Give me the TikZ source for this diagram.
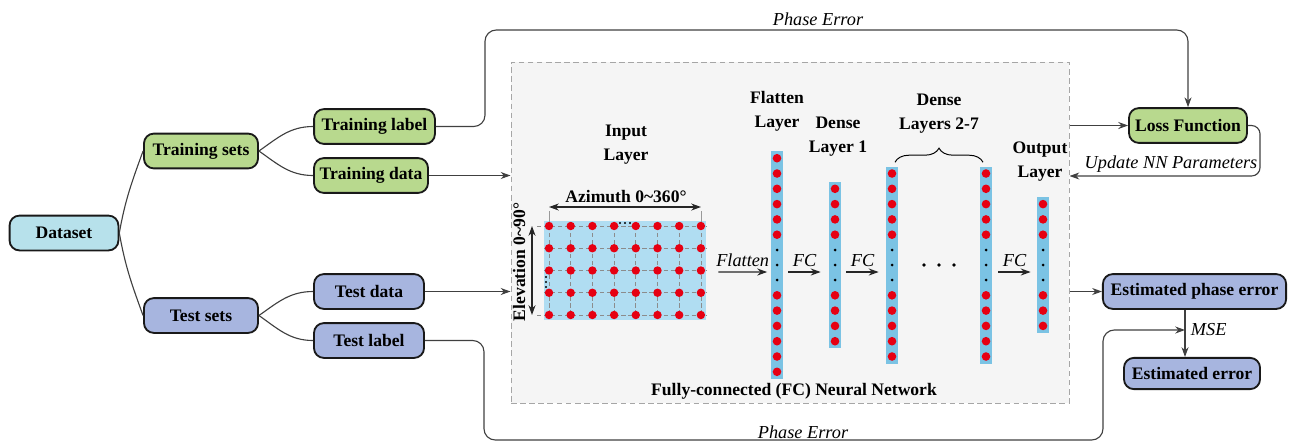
\documentclass[tikz,border=0pt]{standalone}
\usepackage{fontspec}
\setmainfont{Liberation Serif}
\usepackage{xcolor}
\usepackage{tikz}
\usetikzlibrary{arrows.meta,shapes,calc,decorations.pathreplacing}

\definecolor{trgreen}{HTML}{B8D98E}
\definecolor{tsblue}{HTML}{A7B5DF}
\definecolor{dsblue}{HTML}{B7E1EB}
\definecolor{framegray}{HTML}{F5F5F5}
\definecolor{gridblue}{HTML}{B0DDF2}
\definecolor{barblue}{HTML}{7BC3E4}
\definecolor{dotred}{HTML}{E60012}

\begin{document}
\begin{tikzpicture}[x=0.025cm,y=0.025cm]
            \tikzset{box/.style = {draw=black!90, line width=1.3pt, rounded corners=7pt, minimum height=0.87cm, inner sep=2pt, font=\fontsize{12.5}{15}\selectfont\bfseries}}
            \tikzset{link/.style = {draw=black!75, line width=0.8pt}}
            \tikzset{flow/.style = {link, -{Stealth[length=7pt,width=5pt]}}}
            \tikzset{netflow/.style = {draw=black!85, line width=0.9pt, -{Stealth[length=7pt,width=5pt]}}}
            \tikzset{dim/.style = {draw=black!85, line width=0.9pt, {Stealth[length=7pt,width=5pt]}-{Stealth[length=7pt,width=5pt]}}}
            \tikzset{gridline/.style = {draw=gray!90, line width=0.5pt, dash pattern=on 3pt off 2pt}}
            \tikzset{bar/.style = {fill=barblue, minimum width=0.28cm, inner sep=0pt}}
            \tikzset{lab/.style = {font=\fontsize{12.5}{17}\selectfont\bfseries, align=center}}
            \tikzset{note/.style = {font=\fontsize{13}{15}\selectfont\itshape}}

            \useasboundingbox (0,0) rectangle (1292,-443);

            % network frame
            \node[draw=gray!70, line width=0.6pt, dash pattern=on 4pt off 2.5pt, fill=framegray, minimum width=13.95cm, minimum height=8.525cm, inner sep=0pt] (fcnet) at (790,-232.5) {};

            % boxes
            \node[box, fill=dsblue, minimum width=2.72cm] (dataset) at (64,-233) {Dataset};
            \node[box, fill=trgreen, minimum width=2.85cm] (trainsets) at (201,-151) {Training sets};
            \node[box, fill=trgreen, minimum width=3.02cm] (trainlabel) at (374.5,-126.5) {Training label};
            \node[box, fill=trgreen, minimum width=2.85cm] (traindata) at (371,-175.5) {Training data};
            \node[box, fill=tsblue, minimum width=2.85cm] (testsets) at (201,-315.5) {Test sets};
            \node[box, fill=tsblue, minimum width=2.75cm] (testdata) at (369,-291.5) {Test data};
            \node[box, fill=tsblue, minimum width=2.75cm] (testlabel) at (369,-340.5) {Test label};
            \node[box, fill=trgreen, minimum width=2.95cm] (loss) at (1188,-125.5) {Loss Function};
            \node[box, fill=tsblue, minimum width=4.58cm] (estphase) at (1194.5,-291.5) {Estimated phase error};
            \node[box, fill=tsblue, minimum width=3.4cm, minimum height=0.78cm] (esterr) at (1192,-373.5) {Estimated error};

            % tree
            \draw[link] (dataset.east) to[out=80,in=-110] (trainsets.west);
            \draw[link] (dataset.east) to[out=-80,in=110] (testsets.west);
            \draw[link] (trainsets.east) to[out=35,in=180] (trainlabel.west);
            \draw[link] (trainsets.east) to[out=-35,in=180] (traindata.west);
            \draw[link] (testsets.east) to[out=35,in=180] (testdata.west);
            \draw[link] (testsets.east) to[out=-35,in=180] (testlabel.west);

            % links
            \coordinate (uppass) at (485,-30);
            \draw[flow, rounded corners=8pt] (trainlabel.east) -| (uppass) -| (loss.north);
            \node[note] (pe1) at (818,-19) {Phase Error};
            \draw[flow] (traindata.east) -- (traindata.east -| fcnet.west);
            \draw[flow] (testdata.east) -- (testdata.east -| fcnet.west);
            \draw[flow] (fcnet.east |- loss.west) -- (loss.west);
            \coordinate (updpt) at (1260,-176);
            \draw[flow, rounded corners=6pt] (loss.east) -| (updpt) -- (updpt -| fcnet.east);
            \node[note] (upd) at (1171,-164) {Update NN Parameters};
            \draw[flow] (fcnet.east |- estphase.west) -- (estphase.west);
            \coordinate (msept) at (1185,-330);
            \draw[flow] (msept |- estphase.south) -- (msept |- esterr.north);
            \node[note, anchor=west] (mse) at (1186,-330) {MSE};
            \coordinate (lowpass) at (484,-440);
            \coordinate (riseup) at (1103,-330);
            \draw[flow, rounded corners=8pt] (testlabel.east) -| (lowpass) -| (riseup) -- (msept);
            \node[note] (pe2) at (803,-432) {Phase Error};

            % input layer
            \node[fill=gridblue, minimum width=4.05cm, minimum height=2.475cm, inner sep=0pt] (grid) at (625,-270.5) {};
            \foreach \j in {0,...,4}
            {
              \draw[gridline] (544,{-226-22.25*\j}) -- (706,{-226-22.25*\j});
            }
            \draw[gridline] (537,-226) -- (544,-226);
            \draw[gridline] (537,-315) -- (544,-315);
            \foreach \i in {0,...,7}
            {
              \draw[gridline] ({549+21.7*\i},-226) -- ({549+21.7*\i},-315);
            }
            \draw[gray!80, line width=0.5pt] (549,-211) -- (549,-226);
            \draw[gray!80, line width=0.5pt] (701,-211) -- (701,-226);
            \foreach \i in {0,...,7}
              \foreach \j in {0,...,4}
              {
                \fill[dotred] ({549+21.7*\i},{-226-22.25*\j}) circle (4.2);
              }
            \foreach \d in {0,1,2}
            {
              \fill[black] ({620+5*\d},-223) circle (1.1);
              \fill[black] (546,{-277-5*\d}) circle (1.1);
            }
            \coordinate (az-l) at (549,-207);
            \coordinate (az-r) at (701,-207);
            \draw[dim] (az-l) -- (az-r);
            \node[lab] (azlab) at (626,-196) {Azimuth 0\textasciitilde 360°};
            \coordinate (el-t) at (532,-226);
            \coordinate (el-b) at (532,-315);
            \draw[dim] (el-t) -- (el-b);
            \node[lab, rotate=90] (ellab) at (519,-262) {Elevation 0\textasciitilde 90°};
            \node[lab] (inlab) at (626,-145) {Input\\Layer};

            % dense layers
            \foreach \x/\n/\name in {777/6/flat, 835/4/dense1, 892/5/dense2, 986/5/dense7, 1043/3/outl}
            {
              \node[bar, minimum height={0.025cm*(44+30.6*\n)}] (\name) at (\x,-265) {};
              \foreach \k in {1,...,\n}
              {
                \fill[dotred] (\x,{-250+15.3*\k}) circle (4.3);
                \fill[dotred] (\x,{-280-15.3*\k}) circle (4.3);
              }
              \foreach \y in {250,265,280}
              {
                \fill[black] (\x,-\y) circle (1.5);
              }
            }
            \foreach \d in {0,1,2}
            {
              \fill[black] ({924+15*\d},-265) circle (1.8);
            }
            \draw[decorate, decoration={brace, amplitude=10pt}, line width=0.7pt] ([shift={(3,4)}]dense2.north) -- ([shift={(-3,4)}]dense7.north);

            \node[lab] (flatlab) at (777,-111) {Flatten\\Layer};
            \node[lab] (d1lab) at (838,-137) {Dense\\Layer 1};
            \node[lab] (d27lab) at (939,-114) {Dense\\Layers 2-7};
            \node[lab] (outlab) at (1040,-162) {Output\\Layer};
            \node[lab] (netlab) at (794,-391) {Fully-connected (FC) Neural Network};

            % arrows
            \draw[netflow] ([shift={(12,-1.5)}]grid.east) -- node[note, above] {Flatten} ([shift={(-4,-7)}]flat.west);
            \draw[netflow] ([shift={(5.5,-7)}]flat.east) -- node[note, above] {FC} ([shift={(-8.5,-7)}]dense1.west);
            \draw[netflow] ([shift={(5.5,-7)}]dense1.east) -- node[note, above] {FC} ([shift={(-7.5,-7)}]dense2.west);
            \draw[netflow] ([shift={(6.5,-7)}]dense7.east) -- node[note, above] {FC} ([shift={(-6.5,-7)}]outl.west);

          \end{tikzpicture}
\end{document}
